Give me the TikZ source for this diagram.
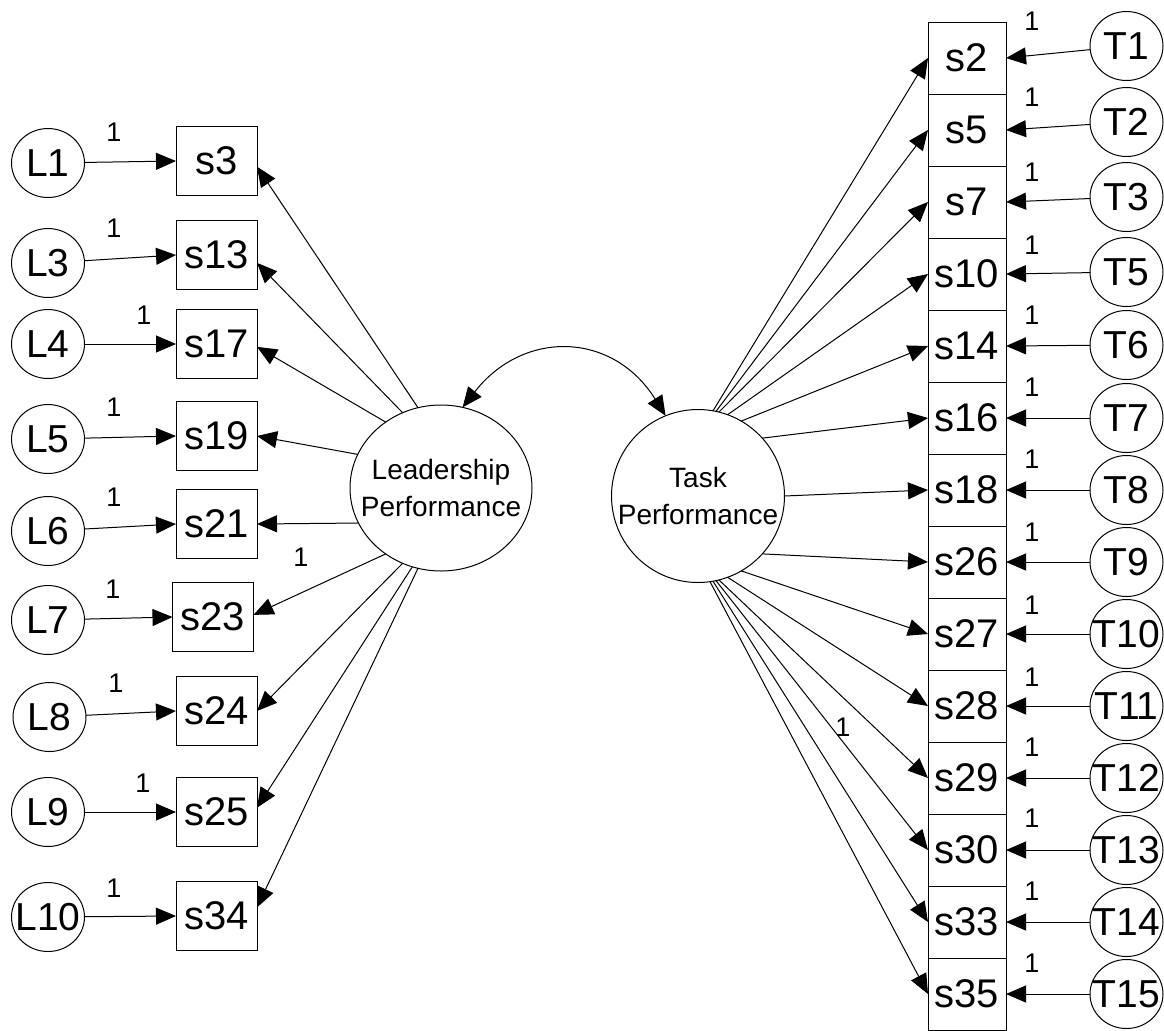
\documentclass[tikz,border=0pt]{standalone}
\usepackage{fontspec}
\setmainfont{Liberation Sans}
\usetikzlibrary{arrows.meta,positioning,shapes.geometric}
\tikzset{
  obs/.style={draw, rectangle, minimum width=40.5pt, minimum height=34.5pt, inner sep=0pt, outer sep=0pt, font=\fontsize{20}{24}\selectfont},
  obsr/.style={obs, minimum width=39pt, minimum height=36pt},
  errvar/.style={draw, ellipse, minimum width=36.5pt, minimum height=34.5pt, inner sep=0pt, outer sep=0pt,
    label={[font=\fontsize{19.5}{23}\selectfont, inner sep=0pt]center:#1}},
  latent/.style={draw, ellipse, inner sep=0pt, outer sep=0pt,
    label={[font=\fontsize{14}{18.5}\selectfont, align=center, inner sep=0pt]center:#1}},
  one/.style={font=\fontsize{13.5}{16}\selectfont, inner sep=0pt},
}
\begin{document}
\begin{tikzpicture}[x=0.5pt, y=-0.5pt, line width=0.5pt, >={Triangle[length=10pt,width=8.5pt]}]
    \useasboundingbox (0,0) rectangle (1164,1030);
    % Latent factors
    \node[latent={Leadership\\Performance}, minimum width=91pt, minimum height=83pt] (lead) at (441,488) {};
    \node[latent={Task\\Performance}, minimum size=86.5pt] (task) at (698,496) {};
    % Leadership items
    \node[obs] (s3) at (216.5,161) {s3};
    \node[obs] (s13) at (216.5,255) {s13};
    \node[obs] (s17) at (216.5,344) {s17};
    \node[obs] (s19) at (216.5,436) {s19};
    \node[obs] (s21) at (216.5,524) {s21};
    \node[obs] (s23) at (213,617) {s23};
    \node[obs] (s24) at (216.5,711) {s24};
    \node[obs] (s25) at (216.5,812) {s25};
    \node[obs] (s34) at (216.5,916) {s34};
    % Task items
    \node[obsr] (s2) at (967,58) {s2};
    \node[obsr, below=0pt of s2] (s5) {s5};
    \node[obsr, below=0pt of s5] (s7) {s7};
    \node[obsr, below=0pt of s7] (s10) {s10};
    \node[obsr, below=0pt of s10] (s14) {s14};
    \node[obsr, below=0pt of s14] (s16) {s16};
    \node[obsr, below=0pt of s16] (s18) {s18};
    \node[obsr, below=0pt of s18] (s26) {s26};
    \node[obsr, below=0pt of s26] (s27) {s27};
    \node[obsr, below=0pt of s27] (s28) {s28};
    \node[obsr, below=0pt of s28] (s29) {s29};
    \node[obsr, below=0pt of s29] (s30) {s30};
    \node[obsr, below=0pt of s30] (s33) {s33};
    \node[obsr, below=0pt of s33] (s35) {s35};
    % Errors
    \node[errvar=L1] (L1) at (48,163) {};
    \node[errvar=L3] (L3) at (48,263) {};
    \node[errvar=L4] (L4) at (48,344) {};
    \node[errvar=L5] (L5) at (48,439) {};
    \node[errvar=L6] (L6) at (48,531) {};
    \node[errvar=L7] (L7) at (48,620) {};
    \node[errvar=L8] (L8) at (49.5,717) {};
    \node[errvar=L9] (L9) at (48,812) {};
    \node[errvar=L10] (L10) at (48,917) {};
    \node[errvar=T1] (T1) at (1126.5,46) {};
    \node[errvar=T2] (T2) at (1126.5,122) {};
    \node[errvar=T3] (T3) at (1126.5,197) {};
    \node[errvar=T5] (T5) at (1126.5,272) {};
    \node[errvar=T6] (T6) at (1126.5,345) {};
    \node[errvar=T7] (T7) at (1126.5,418) {};
    \node[errvar=T8] (T8) at (1126.5,490) {};
    \node[errvar=T9] (T9) at (1126.5,562) {};
    \node[errvar=T10] (T10) at (1126.5,634) {};
    \node[errvar=T11] (T11) at (1126.5,706) {};
    \node[errvar=T12] (T12) at (1126.5,778) {};
    \node[errvar=T13] (T13) at (1126.5,850) {};
    \node[errvar=T14] (T14) at (1126.5,922) {};
    \node[errvar=T15] (T15) at (1126.5,994) {};
    % Error paths
    \draw[->] (L1) -- (s3.west);
    \draw[->] (L3) -- (s13.west);
    \draw[->] (L4) -- (s17.west);
    \draw[->] (L5) -- (s19.west);
    \draw[->] (L6) -- (s21.west);
    \draw[->] (L7) -- (s23.west);
    \draw[->] (L8) -- (s24.west);
    \draw[->] (L9) -- (s25.west);
    \draw[->] (L10) -- (s34.west);
    \draw[->] (T1) -- (s2.east);
    \draw[->] (T2) -- (s5.east);
    \draw[->] (T3) -- (s7.east);
    \draw[->] (T5) -- (s10.east);
    \draw[->] (T6) -- (s14.east);
    \draw[->] (T7) -- (s16.east);
    \draw[->] (T8) -- (s18.east);
    \draw[->] (T9) -- (s26.east);
    \draw[->] (T10) -- (s27.east);
    \draw[->] (T11) -- (s28.east);
    \draw[->] (T12) -- (s29.east);
    \draw[->] (T13) -- (s30.east);
    \draw[->] (T14) -- (s33.east);
    \draw[->] (T15) -- (s35.east);
    % Loadings
    \draw[->] (lead.106) -- (s3.-8);
    \draw[->] (lead.117) -- (s13.-11);
    \draw[->] (lead.130) -- (s17.-4);
    \draw[->] (lead.158) -- (s19.east);
    \draw[->] (lead.203) -- (s21.east);
    \draw[->] (lead.230) -- (s23.3);
    \draw[->] (lead.243) -- (s24.east);
    \draw[->] (lead.250) -- (s25.6);
    \draw[->] (lead.254) -- (s34.12);
    \draw[->] (task.80) -- (s2.west);
    \draw[->] (task.78) -- (s5.west);
    \draw[->] (task.76) -- (s7.west);
    \draw[->] (task.70) -- (s10.west);
    \draw[->] (task.60) -- (s14.west);
    \draw[->] (task.42) -- (s16.west);
    \draw[->] (task.0) -- (s18.west);
    \draw[->] (task.-42) -- (s26.west);
    \draw[->] (task.-60) -- (s27.west);
    \draw[->] (task.-70) -- (s28.west);
    \draw[->] (task.-76) -- (s29.west);
    \draw[->] (task.-78) -- (s30.west);
    \draw[->] (task.-80) -- (s33.west);
    \draw[->] (task.-82) -- (s35.west);
    % Covariance
    \draw[<->] (lead.75) to[out=52, in=122, looseness=1.25] (task.112);
    % Fixed weights
    \node[one] (w3) at (114,132) {1};
    \node[one] (w13) at (114,228) {1};
    \node[one] (w17) at (144,315) {1};
    \node[one] (w19) at (114,407) {1};
    \node[one] (w21) at (114,497) {1};
    \node[one] (w23) at (113,589) {1};
    \node[one] (l23) at (301,557) {1};
    \node[one] (w24) at (116,683) {1};
    \node[one] (w25) at (143,783) {1};
    \node[one] (w34) at (114,888) {1};
    \node[one] (w2) at (1032,21) {1};
    \node[one] (w5) at (1032,97) {1};
    \node[one] (w7) at (1032,172) {1};
    \node[one] (w10) at (1032,245) {1};
    \node[one] (w14) at (1032,315) {1};
    \node[one] (w16) at (1032,387) {1};
    \node[one] (w18) at (1032,459) {1};
    \node[one] (w26) at (1032,532) {1};
    \node[one] (w27) at (1032,605) {1};
    \node[one] (w28) at (1032,677) {1};
    \node[one] (l28) at (843,727) {1};
    \node[one] (w29) at (1032,747) {1};
    \node[one] (w30) at (1032,818) {1};
    \node[one] (w33) at (1032,891) {1};
    \node[one] (w35) at (1032,963) {1};
\end{tikzpicture}
\end{document}
